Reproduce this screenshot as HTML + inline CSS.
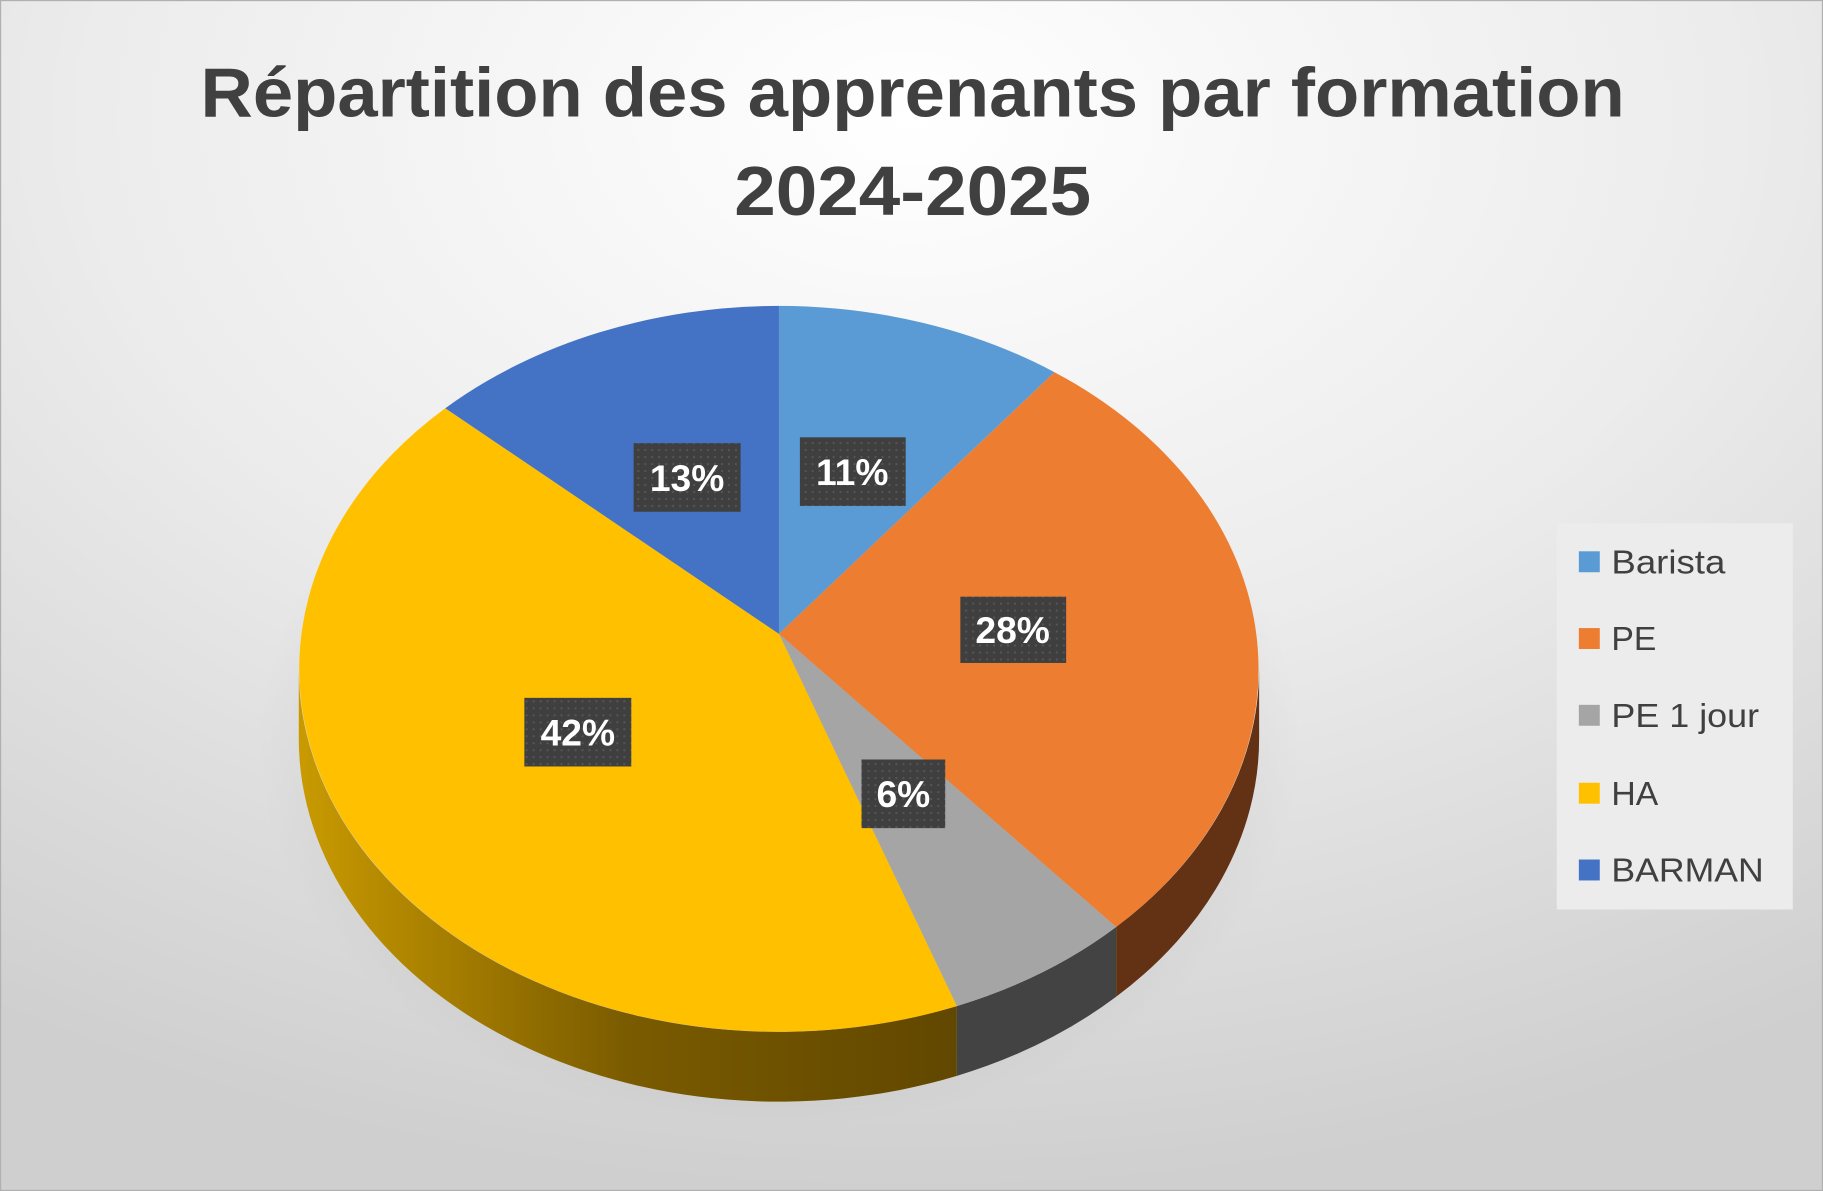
<!DOCTYPE html>
<html><head><meta charset="utf-8"><style>html,body{margin:0;padding:0;overflow:hidden}svg{display:block}</style></head>
<body>
<svg width="1823" height="1191" viewBox="0 0 1568 1024" preserveAspectRatio="none" xmlns="http://www.w3.org/2000/svg">
<defs>
<radialGradient id="bg" cx="0.5" cy="0.1" r="0.9">
<stop offset="0" stop-color="#ffffff"/><stop offset="0.5" stop-color="#ececec"/><stop offset="1" stop-color="#cfcfcf"/>
</radialGradient>
<linearGradient id="ys" x1="0" y1="0" x2="1" y2="0">
<stop offset="0" stop-color="#c99a00"/><stop offset="0.5" stop-color="#7a5b00"/><stop offset="1" stop-color="#614700"/>
</linearGradient>
<radialGradient id="sh" cx="0.5" cy="0.5" r="0.5">
<stop offset="0" stop-color="#000" stop-opacity="0.25"/><stop offset="1" stop-color="#000" stop-opacity="0"/>
</radialGradient>
<pattern id="dots" width="6" height="6" patternUnits="userSpaceOnUse">
<rect width="6" height="6" fill="#3f3f3f"/><circle cx="3" cy="3" r="1" fill="#555"/>
</pattern>
</defs>
<rect x="0" y="0" width="1568" height="1024" fill="url(#bg)" stroke="#b0b0b0" stroke-width="2"/>
<g font-family="Liberation Sans, sans-serif" font-weight="bold" fill="#404040" font-size="60" text-anchor="middle">
<text x="785" y="100" textLength="1225" lengthAdjust="spacingAndGlyphs">Répartition des apprenants par formation</text>
<text x="785" y="185" textLength="307" lengthAdjust="spacingAndGlyphs">2024-2025</text>
</g>
<ellipse cx="670" cy="640" rx="450" ry="330" fill="url(#sh)"/>
<!-- sides -->
<path d="M257,575 A413,312 0 0 0 823,865 L823,925 A413,312 0 0 1 257,635 Z" fill="url(#ys)"/>
<path d="M823,865 A413,312 0 0 0 960,797 L960,857 A413,312 0 0 1 823,925 Z" fill="#434343"/>
<path d="M960,797 A413,312 0 0 0 1083,575 L1083,635 A413,312 0 0 1 960,857 Z" fill="#633114"/>
<!-- top -->
<path d="M670,545 L670,263 A413,312 0 0 1 907,320 Z" fill="#5b9bd5"/>
<path d="M670,545 L907,320 A413,312 0 0 1 960,797 Z" fill="#ed7d31"/>
<path d="M670,545 L960,797 A413,312 0 0 1 823,865 Z" fill="#a5a5a5"/>
<path d="M670,545 L823,865 A413,312 0 0 1 383,351 Z" fill="#ffc000"/>
<path d="M670,545 L383,351 A413,312 0 0 1 670,263 Z" fill="#4472c4"/>
<g font-family="Liberation Sans, sans-serif" font-weight="bold" fill="#fff" font-size="32" text-anchor="middle">
<rect x="545" y="381" width="92" height="59" fill="url(#dots)"/><text x="591" y="422">13%</text>
<rect x="688" y="376" width="91" height="59" fill="url(#dots)"/><text x="733" y="417">11%</text>
<rect x="826" y="513" width="91" height="57" fill="url(#dots)"/><text x="871" y="553">28%</text>
<rect x="451" y="600" width="92" height="59" fill="url(#dots)"/><text x="497" y="641">42%</text>
<rect x="741" y="653" width="72" height="59" fill="url(#dots)"/><text x="777" y="694">6%</text>
</g>
<rect x="1339" y="450" width="203" height="332" fill="#ececec"/>
<g font-family="Liberation Sans, sans-serif" fill="#404040" font-size="29">
<rect x="1358" y="474" width="18" height="18" fill="#5b9bd5"/><text x="1386" y="493" textLength="98" lengthAdjust="spacingAndGlyphs">Barista</text>
<rect x="1358" y="540" width="18" height="18" fill="#ed7d31"/><text x="1386" y="559">PE</text>
<rect x="1358" y="606" width="18" height="18" fill="#a5a5a5"/><text x="1386" y="625" textLength="127" lengthAdjust="spacingAndGlyphs">PE 1 jour</text>
<rect x="1358" y="673" width="18" height="18" fill="#ffc000"/><text x="1386" y="692">HA</text>
<rect x="1358" y="739" width="18" height="18" fill="#4472c4"/><text x="1386" y="758" textLength="131" lengthAdjust="spacingAndGlyphs">BARMAN</text>
</g>
</svg>
</body></html>
